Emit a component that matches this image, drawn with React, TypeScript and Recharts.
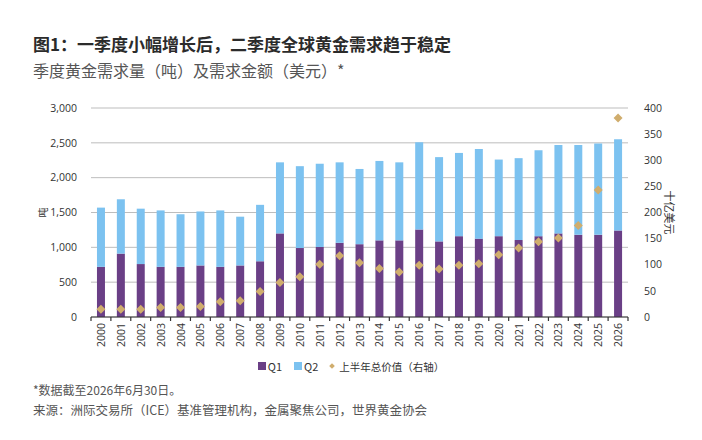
import React from "react";
import { Bar, CartesianGrid, ComposedChart, Legend, Line, XAxis, YAxis } from "recharts";

const years = [
	"2000", "2001", "2002", "2003", "2004", "2005", "2006", "2007", "2008", "2009",
	"2010", "2011", "2012", "2013", "2014", "2015", "2016", "2017", "2018", "2019",
	"2020", "2021", "2022", "2023", "2024", "2025", "2026",
];
// 吨
const q1 = [720, 910, 760, 720, 720, 740, 720, 740, 800, 1200, 990, 1005, 1065, 1045, 1100, 1100, 1255, 1085, 1160, 1125, 1160, 1105, 1160, 1200, 1180, 1180, 1240];
const q2 = [850, 780, 795, 810, 755, 775, 810, 700, 810, 1020, 1175, 1195, 1155, 1080, 1140, 1120, 1255, 1210, 1195, 1285, 1100, 1175, 1235, 1270, 1290, 1310, 1310];
// 十亿美元
const halfYearValue = [15, 15, 15, 18, 18, 20, 29, 31, 49, 66, 77, 101, 117, 104, 93, 86, 99, 92, 99, 102, 119, 132, 144, 151, 175, 243, 381];

const leftTicks = [0, 500, 1000, 1500, 2000, 2500, 3000];
const rightTicks = [0, 50, 100, 150, 200, 250, 300, 350, 400];

const data = years.map((year, i) => ({ year, q1: q1[i], q2: q2[i], value: halfYearValue[i] }));

const PURPLE = "#6a3f86";
const BLUE = "#7cc2f0";
const GOLD = "#d0ad6d";
const FONT = "'Noto Sans CJK SC', 'Noto Sans', sans-serif";

const YearTick = (props: any) => {
	const { x, y, payload, index } = props;
	const half = payload.offset ?? 0;
	const ty = y + 6;
	return (
		<g>
			<line x1={x - half} x2={x - half} y1={y} y2={y + 4} stroke="#333" strokeWidth={1.2} />
			{index === years.length - 1 && (
				<line x1={x + half} x2={x + half} y1={y} y2={y + 4} stroke="#333" strokeWidth={1.2} />
			)}
			<text
				x={x}
				y={ty}
				transform={`rotate(-90 ${x} ${ty})`}
				textAnchor="end"
				dominantBaseline="central"
				fontSize={10.5}
				fontFamily="'Open Sans', sans-serif"
				fill="#333"
			>
				{payload.value}
			</text>
		</g>
	);
};

// rot / shift instead of angle / dx: Label overrides those when it clones the element
const AxisTitle = (props: any) => {
	const { viewBox, text, rot, shift = 0, size = 11 } = props;
	const cx = viewBox.x + viewBox.width / 2 + shift;
	const cy = viewBox.y + viewBox.height / 2;
	return (
		<text
			x={cx}
			y={cy}
			transform={`rotate(${rot} ${cx} ${cy})`}
			textAnchor="middle"
			dominantBaseline="central"
			fontSize={size}
			fontFamily={FONT}
			fill="#333"
		>
			{text}
		</text>
	);
};

const LegendBox = () => (
	<div
		style={{
			display: "flex",
			justifyContent: "center",
			alignItems: "center",
			height: 20,
			fontSize: 11,
			color: "#333",
			fontFamily: FONT,
		}}
	>
		<span style={{ width: 8, height: 8, background: PURPLE, marginRight: 2 }} />
		<span style={{ marginRight: 12 }}>Q1</span>
		<span style={{ width: 8, height: 8, background: BLUE, marginRight: 2 }} />
		<span style={{ marginRight: 12 }}>Q2</span>
		<span style={{ width: 4, height: 4, background: GOLD, transform: "rotate(45deg)", marginRight: 5 }} />
		<span style={{ fontSize: 10.5 }}>上半年总价值（右轴）</span>
	</div>
);

const Diamond = (props: any) => {
	const { cx, cy, index } = props;
	if (cx == null || cy == null) return <g key={index} />;
	const r = 4.5;
	return <path key={index} d={`M${cx},${cy - r}L${cx + r},${cy}L${cx},${cy + r}L${cx - r},${cy}Z`} fill={GOLD} />;
};

const App = () => {
	return (
		<div style={{ position: "absolute", left: 0, top: 0, width: 702, height: 440, background: "#fff", fontFamily: FONT }}>
			<div style={{ position: "absolute", left: 33, top: 31, fontSize: 17, fontWeight: 700, color: "#2b2b2b", whiteSpace: "nowrap" }}>
				图1：一季度小幅增长后，二季度全球黄金需求趋于稳定
			</div>
			<div style={{ position: "absolute", left: 33, top: 58, fontSize: 16, color: "#555", whiteSpace: "nowrap" }}>
				季度黄金需求量（吨）及需求金额（美元）*
			</div>
			<div style={{ position: "absolute", left: 0, top: 90 }}>
				<ComposedChart
					width={702}
					height={290}
					data={data}
					margin={{ top: 18, right: 0, bottom: 4, left: 0 }}
					barCategoryGap="30%"
				>
					<CartesianGrid yAxisId="left" vertical={false} stroke="#bdbdbd" />
					<XAxis
						dataKey="year"
						interval={0}
						height={39}
						tickLine={false}
						tickSize={0}
						tickMargin={0}
						axisLine={{ stroke: "#333", strokeWidth: 1.2 }}
						tick={<YearTick />}
					/>
					<YAxis
						yAxisId="left"
						orientation="left"
						width={91}
						domain={[0, 3000]}
						ticks={leftTicks}
						tickFormatter={(v: number) => v.toLocaleString("en-US")}
						axisLine={false}
						tickLine={false}
						tickMargin={8}
						tick={{ fontSize: 10.5, fill: "#333", fontFamily: "'Open Sans', sans-serif" }}
						label={<AxisTitle text="吨" rot={-90} shift={-3} size={10} />}
					/>
					<YAxis
						yAxisId="right"
						orientation="right"
						width={74}
						domain={[0, 400]}
						ticks={rightTicks}
						axisLine={false}
						tickLine={false}
						tickMargin={10}
						tick={{ fontSize: 10.5, fill: "#333", fontFamily: "'Open Sans', sans-serif" }}
						label={<AxisTitle text="十亿美元" rot={90} shift={5} />}
					/>
					<Bar yAxisId="left" dataKey="q1" stackId="a" fill={PURPLE} isAnimationActive={false} />
					<Bar yAxisId="left" dataKey="q2" stackId="a" fill={BLUE} isAnimationActive={false} />
					<Line
						yAxisId="right"
						dataKey="value"
						stroke="none"
						dot={Diamond}
						activeDot={false}
						isAnimationActive={false}
					/>
					<Legend verticalAlign="bottom" height={20} content={<LegendBox />} />
				</ComposedChart>
			</div>
			<div style={{ position: "absolute", left: 33, top: 381, fontSize: 12, color: "#555", whiteSpace: "nowrap" }}>
				*数据截至2026年6月30日。
			</div>
			<div style={{ position: "absolute", left: 33, top: 400, fontSize: 12.5, color: "#555", whiteSpace: "nowrap" }}>
				来源：洲际交易所（ICE）基准管理机构，金属聚焦公司，世界黄金协会
			</div>
		</div>
	);
};

export default App;
